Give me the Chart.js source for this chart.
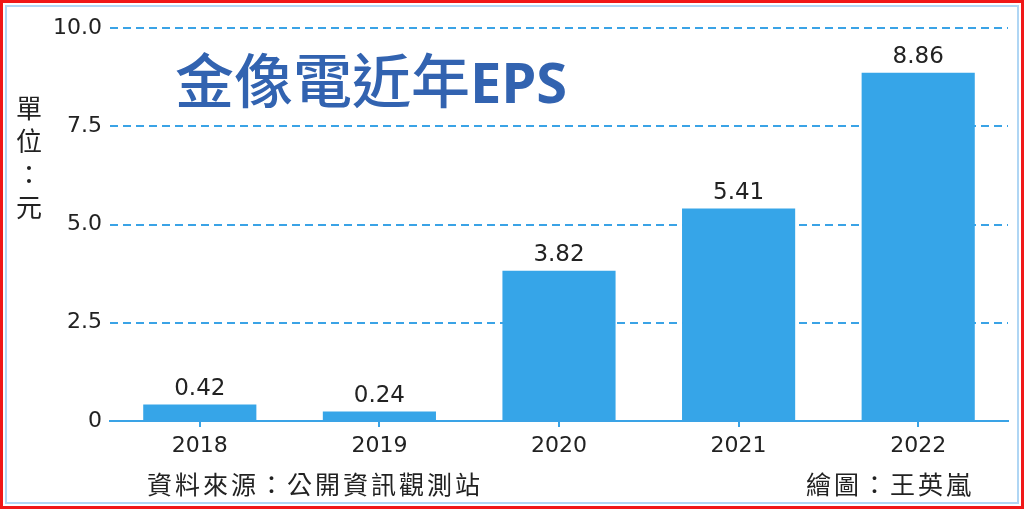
<!DOCTYPE html>
<html>
<head>
<meta charset="utf-8">
<script src="https://cdn.jsdelivr.net/npm/chart.js@4"></script>
<style>
  html, body { margin: 0; padding: 0; background: #fff; }
  #wrap { position: relative; width: 1024px; height: 509px; overflow: hidden; }
  #frame-red { position: absolute; left: 0; top: 0; width: 1018px; height: 503px; border: 3px solid #f01818; }
  #frame-blue { position: absolute; left: 5px; top: 5px; width: 1010px; height: 495px; border: 2px solid #b0d6f4; }
  canvas { position: absolute; left: 0; top: 0; }
  .txt { position: absolute; font-family: "Noto Sans CJK TC", "Noto Sans", sans-serif; color: #222; white-space: nowrap; }
  #title { left: 175px; top: 48px; font-size: 59px; font-weight: 500; color: #3263b0; line-height: 1; }
  #title .en { font-family: "Noto Sans", "Liberation Sans", sans-serif; font-weight: bold; font-size: 56px; }
  #unit { left: 15px; top: 90px; font-size: 26px; line-height: 33px; width: 28px; text-align: center; white-space: normal; }
  #source { left: 147px; top: 471px; font-size: 25px; letter-spacing: 3px; line-height: 1; }
  #author { left: 806px; top: 471px; font-size: 25px; letter-spacing: 3px; line-height: 1; }
</style>
</head>
<body>
<div id="wrap">
  <canvas id="chart" width="1024" height="509"></canvas>
  <div id="frame-red"></div>
  <div id="frame-blue"></div>
  <div class="txt" id="title">金像電近年<span class="en">EPS</span></div>
  <div class="txt" id="unit">單<br>位<br>：<br>元</div>
  <div class="txt" id="source">資料來源：公開資訊觀測站</div>
  <div class="txt" id="author">繪圖：王英嵐</div>
</div>
<script>
// Data
const years = ['2018', '2019', '2020', '2021', '2022'];
const eps = [0.42, 0.24, 3.82, 5.41, 8.86];
const yTicks = [0, 2.5, 5.0, 7.5, 10.0];

const blue = '#36a5e8';
const lineBlue = '#3aa3e6';
const numFont = '"DejaVu Sans", "Noto Sans", sans-serif';

// value labels above bars
const valueLabels = {
    id: 'valueLabels',
    afterDatasetsDraw(chart) {
        const ctx = chart.ctx;
        const meta = chart.getDatasetMeta(0);
        ctx.save();
        ctx.font = '23px ' + numFont;
        ctx.fillStyle = '#222';
        ctx.textAlign = 'center';
        ctx.textBaseline = 'bottom';
        meta.data.forEach((bar, i) => {
            ctx.fillText(eps[i].toFixed(2), bar.x, bar.y - 4);
        });
        ctx.restore();
    }
};

const chartCanvas = document.getElementById('chart').getContext('2d');
const epsChart = new Chart(chartCanvas, {
    type: 'bar',
    data: {
        labels: years,
        datasets: [{
            data: eps,
            backgroundColor: blue,
            borderWidth: 0,
            categoryPercentage: 0.63,
            barPercentage: 1.0
        }]
    },
    options: {
        responsive: false,
        animation: false,
        layout: { padding: { top: 28, right: 16, left: 0, bottom: 0 } },
        plugins: { legend: { display: false }, tooltip: { enabled: false } },
        scales: {
            x: {
                afterFit: (scale) => { scale.height = 88; },
                border: { display: true, color: lineBlue, width: 2 },
                grid: { display: true, offset: false, drawOnChartArea: false, drawTicks: true, tickLength: 6, color: lineBlue, lineWidth: 2 },
                ticks: { color: '#222', font: { size: 22, family: numFont }, padding: 6 }
            },
            y: {
                min: 0,
                max: 10,
                afterFit: (scale) => { scale.width = 110; },
                afterBuildTicks: (scale) => { scale.ticks = yTicks.map(v => ({ value: v })); },
                border: { display: false, dash: [8, 5] },
                grid: {
                    drawTicks: false,
                    color: (c) => c.tick && c.tick.value === 0 ? 'rgba(0,0,0,0)' : lineBlue,
                    lineWidth: 2
                },
                ticks: {
                    color: '#222',
                    font: { size: 22, family: numFont },
                    padding: 8,
                    callback: (v) => v === 0 ? '0' : Number(v).toFixed(1)
                }
            }
        }
    },
    plugins: [valueLabels]
});
</script>
</body>
</html>
